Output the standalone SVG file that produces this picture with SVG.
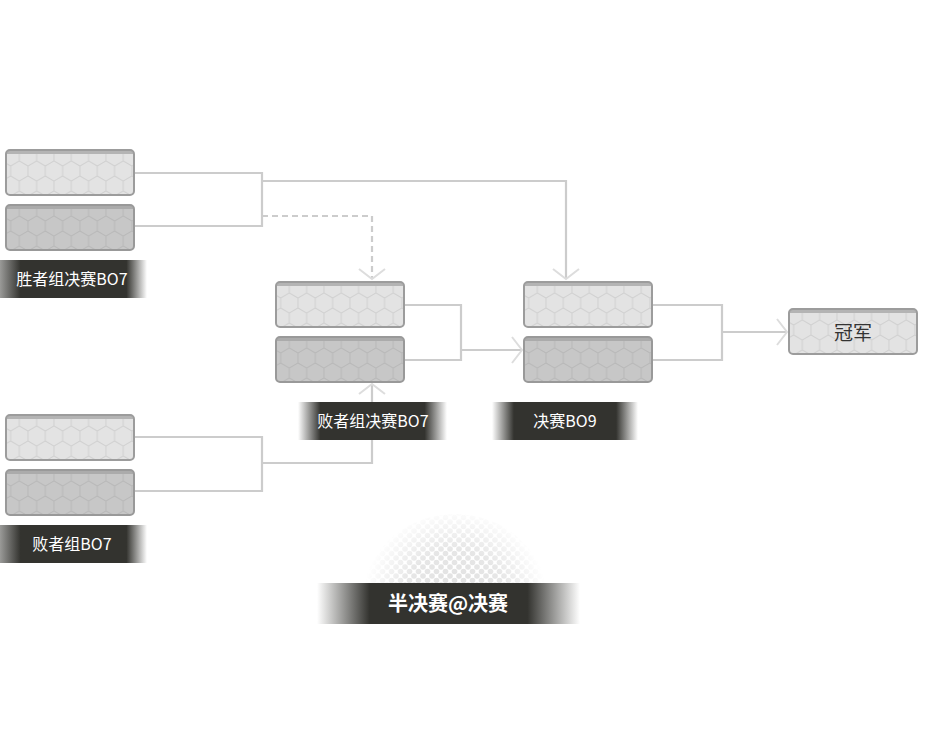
<svg xmlns="http://www.w3.org/2000/svg" xmlns:xlink="http://www.w3.org/1999/xlink" width="944" height="751" viewBox="0 0 944 751">
<style>
.conn{fill:none;stroke:#cccccc;stroke-width:2.2}
.dash{stroke-dasharray:6 4}
.lbl{font-family:"Noto Sans CJK SC","Liberation Sans",sans-serif;font-size:16px;fill:#ffffff;text-anchor:middle}
.big{font-size:20px;font-weight:bold}
.champ{font-family:"Noto Sans CJK SC","Liberation Sans",sans-serif;font-size:19px;fill:#333333;text-anchor:middle}
</style>
<defs>
<pattern id="hexL" patternUnits="userSpaceOnUse" width="17.32" height="30" x="-3" y="-8">
<path d="M8.66,0V5L0,10M8.66,5L17.32,10M0,10V20M17.32,10V20M0,20L8.66,25M17.32,20L8.66,25V30" fill="none" stroke="#d0d0d0" stroke-width="1"/>
</pattern>
<pattern id="hexD" patternUnits="userSpaceOnUse" width="17.32" height="30" x="-3" y="-8">
<path d="M8.66,0V5L0,10M8.66,5L17.32,10M0,10V20M17.32,10V20M0,20L8.66,25M17.32,20L8.66,25V30" fill="none" stroke="#b8b8b8" stroke-width="1"/>
</pattern>
<pattern id="dots" patternUnits="userSpaceOnUse" width="9" height="9">
<circle cx="0" cy="0" r="2.8" fill="#e0e0e0"/>
<circle cx="9" cy="0" r="2.8" fill="#e0e0e0"/>
<circle cx="0" cy="9" r="2.8" fill="#e0e0e0"/>
<circle cx="9" cy="9" r="2.8" fill="#e0e0e0"/>
<circle cx="4.5" cy="4.5" r="2.8" fill="#e0e0e0"/>
</pattern>
<radialGradient id="fadeG" gradientUnits="userSpaceOnUse" cx="455" cy="600" r="92">
<stop offset="0" stop-color="#fff" stop-opacity="1"/>
<stop offset="0.55" stop-color="#fff" stop-opacity="0.8"/>
<stop offset="1" stop-color="#fff" stop-opacity="0"/>
</radialGradient>
<mask id="fadeM" maskUnits="userSpaceOnUse" x="340" y="500" width="230" height="100">
<rect x="340" y="500" width="230" height="100" fill="url(#fadeG)"/>
</mask>
<linearGradient id="banL" x1="0" y1="0" x2="1" y2="0">
<stop offset="0" stop-color="#9a9a98"/>
<stop offset="0.14" stop-color="#33332f"/>
<stop offset="0.86" stop-color="#33332f"/>
<stop offset="1" stop-color="#ffffff"/>
</linearGradient>
<linearGradient id="ban" x1="0" y1="0" x2="1" y2="0">
<stop offset="0" stop-color="#ffffff"/>
<stop offset="0.15" stop-color="#33332f"/>
<stop offset="0.85" stop-color="#33332f"/>
<stop offset="1" stop-color="#ffffff"/>
</linearGradient>
<linearGradient id="banB" x1="0" y1="0" x2="1" y2="0">
<stop offset="0" stop-color="#ffffff"/>
<stop offset="0.2" stop-color="#33332f"/>
<stop offset="0.8" stop-color="#33332f"/>
<stop offset="1" stop-color="#ffffff"/>
</linearGradient>
<g id="boxL">
<rect x="1" y="1" width="128" height="45" rx="4" fill="#e3e3e3"/>
<rect x="1" y="1" width="128" height="45" rx="4" fill="url(#hexL)"/>
<path d="M1,6A5,5 0 0 1 6,1H124A5,5 0 0 1 129,6V5H1Z" fill="#b4b4b4"/>
<rect x="1" y="1" width="128" height="45" rx="4" fill="none" stroke="#9c9c9c" stroke-width="2"/>
</g>
<g id="boxD">
<rect x="1" y="1" width="128" height="45" rx="4" fill="#c7c7c7"/>
<rect x="1" y="1" width="128" height="45" rx="4" fill="url(#hexD)"/>
<path d="M1,6A5,5 0 0 1 6,1H124A5,5 0 0 1 129,6V5H1Z" fill="#ababab"/>
<rect x="1" y="1" width="128" height="45" rx="4" fill="none" stroke="#999999" stroke-width="2"/>
</g>
<marker id="arr" markerUnits="userSpaceOnUse" markerWidth="14" markerHeight="30" viewBox="-12 -14 14 28" refX="0" refY="0" orient="auto">
<path d="M-10,-13L0,0L-10,13" fill="none" stroke="#dddddd" stroke-width="2"/>
</marker>
</defs>

<rect width="944" height="751" fill="#ffffff"/>

<g id="halftone">
<ellipse cx="455" cy="600" rx="92" ry="86" fill="url(#dots)" mask="url(#fadeM)"/>
</g>

<g id="connectors">
<path class="conn" d="M135,173H262V226H135"/>
<path class="conn" d="M262,181H566V279" marker-end="url(#arr)"/>
<path class="conn dash" d="M262,216H372V279" marker-end="url(#arr)"/>
<path class="conn" d="M135,437H262V491H135"/>
<path class="conn" d="M262,463H372V384" marker-end="url(#arr)"/>
<path class="conn" d="M405,305H461V360H405"/>
<path class="conn" d="M461,350H522" marker-end="url(#arr)"/>
<path class="conn" d="M653,305H722V360H653"/>
<path class="conn" d="M722,332H787" marker-end="url(#arr)"/>
</g>

<g id="w1"><use href="#boxL" x="5" y="149"/></g>
<g id="w2"><use href="#boxD" x="5" y="204"/></g>
<g id="l1"><use href="#boxL" x="5" y="414"/></g>
<g id="l2"><use href="#boxD" x="5" y="469"/></g>
<g id="s1"><use href="#boxL" x="275" y="281"/></g>
<g id="s2"><use href="#boxD" x="275" y="336"/></g>
<g id="f1"><use href="#boxL" x="523" y="281"/></g>
<g id="f2"><use href="#boxD" x="523" y="336"/></g>
<g id="champion">
<use href="#boxL" x="788" y="308"/>
<text class="champ" x="853" y="340">冠军</text>
</g>

<g id="label-winners">
<rect x="0" y="260" width="147" height="38" fill="url(#banL)"/>
<text class="lbl" x="72" y="285">胜者组决赛BO7</text>
</g>
<g id="label-losers">
<rect x="0" y="525" width="147" height="38" fill="url(#banL)"/>
<text class="lbl" x="72" y="550">败者组BO7</text>
</g>
<g id="label-losers-final">
<rect x="298" y="402" width="149" height="38" fill="url(#ban)"/>
<text class="lbl" x="373" y="427">败者组决赛BO7</text>
</g>
<g id="label-final">
<rect x="492" y="402" width="146" height="38" fill="url(#ban)"/>
<text class="lbl" x="565" y="427">决赛BO9</text>
</g>
<g id="label-main">
<rect x="317" y="583" width="263" height="41" fill="url(#banB)"/>
<text class="lbl big" x="448" y="611">半决赛@决赛</text>
</g>
</svg>
